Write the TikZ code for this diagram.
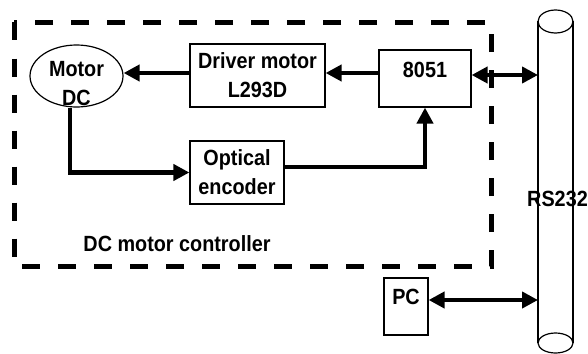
\documentclass[tikz,border=0pt]{standalone}
\usepackage{fontspec}
\setmainfont{Liberation Sans}[FakeStretch=0.9]
\usetikzlibrary{arrows.meta,shapes.geometric,calc}
\begin{document}
\begin{tikzpicture}[x=1pt,y=-1pt,
 every node/.style={font=\bfseries\fontsize{22}{29}\selectfont},
 box/.style={draw, line width=1.2pt, inner sep=0pt},
 arr/.style={line width=4.5pt, -{Triangle[length=16pt,width=16pt]}},
 barr/.style={line width=4.5pt, {Triangle[length=16pt,width=16pt]}-{Triangle[length=16pt,width=16pt]}},
 thin/.style={line width=1.2pt}
 ]
\useasboundingbox (0,0) rectangle (588,353);
% dashed controller frame
\draw[line width=5pt, dash pattern=on 18pt off 18pt] (14,22.5) rectangle (491.5,266.5);
% blocks
\node[thin, draw, ellipse, minimum width=93pt, minimum height=62pt, inner sep=0pt] (motor) at (76.5,76) {};
\node[align=center] (motortxt) at (76.5,84) {Motor\\DC};
\node[box, align=center, minimum width=135pt, minimum height=63pt] (driver) at (257.5,75.5) {Driver motor\\L293D};
\node[box, minimum width=92pt, minimum height=57pt, text depth=18pt] (mcu) at (425,78.5) {8051};
\node[box, align=center, minimum width=94pt, minimum height=63pt] (enc) at (237,172.5) {Optical\\encoder};
\node[box, minimum width=44pt, minimum height=57pt, text depth=20pt] (pc) at (406,306.5) {PC};
\node (lbl) at (177,244) {DC motor controller};
% RS232 bus (cylinder)
\draw[thin] (538,21.5) -- (538,343) (573,21.5) -- (573,343);
\draw[thin] (555.5,21.5) ellipse [x radius=17.5pt, y radius=11.5pt];
\draw[thin] (555.5,343) ellipse [x radius=17.5pt, y radius=10pt];
\node (rs) at (557.5,199) {RS232};
\coordinate (busA) at (538,75);
\coordinate (busB) at (538,300);
% connectors
\coordinate (ry) at (0,73);
\draw[arr] (mcu.west |- ry) -- (driver.east |- ry);
\draw[arr] (driver.west |- ry) -- (motor.east |- ry);
\draw[arr] ([xshift=-6.5pt]motor.south) |- (enc.west);
\draw[arr] ([yshift=5.5pt]enc.east) -| (mcu.south);
\draw[barr] (mcu.east |- busA) -- (busA);
\draw[barr] (pc.east |- busB) -- (busB);
\end{tikzpicture}
\end{document}
